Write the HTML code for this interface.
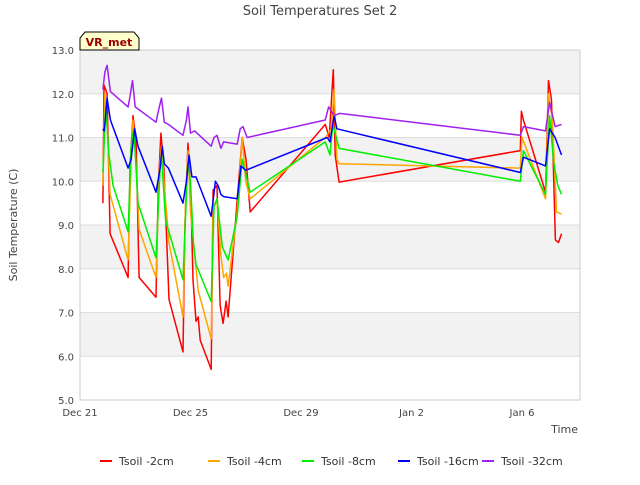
<!DOCTYPE html>
<html><head><meta charset="utf-8"><style>
body{margin:0;background:#fff;font-family:"Liberation Sans","DejaVu Sans",sans-serif}
svg text{font-family:"DejaVu Sans","Liberation Sans",sans-serif}
</style></head><body>
<svg id="chart" width="640" height="480" xmlns="http://www.w3.org/2000/svg">
<text x="320" y="15" text-anchor="middle" font-size="13" fill="#444">Soil Temperatures Set 2</text>
<g id="bands"></g><g id="grid"></g><g id="series"></g><g id="axes"></g>
<text transform="translate(17,225) rotate(-90)" text-anchor="middle" font-size="11" fill="#444">Soil Temperature (C)</text>
<text x="578" y="433" text-anchor="end" font-size="11" fill="#444">Time</text>
<g>
<path d="M80,50 L80,38 L85,32 L134,32 L139,38 L139,50 Z" fill="#ffffcc" stroke="#000" stroke-width="1"/>
<text x="109" y="46" text-anchor="middle" font-size="11" font-weight="bold" fill="#990000">VR_met</text>
</g>
<g id="legend"></g>
</svg>
<script>
const yTicks=[5,6,7,8,9,10,11,12,13];
const xTickDays=[0,4,8,12,16];
const xTickLabels=["Dec 21","Dec 25","Dec 29","Jan 2","Jan 6"];
const seriesNames=["Tsoil -2cm","Tsoil -4cm","Tsoil -8cm","Tsoil -16cm","Tsoil -32cm"];
const seriesColors=["#ff0000","#ffa500","#00ee00","#0000ff","#a020f0"];
const redDays=[0.83,0.87,0.98,1.09,1.74,1.81,1.92,2.03,2.14,2.75,2.83,2.93,3.04,3.22,3.73,3.80,3.91,4.02,4.09,4.20,4.28,4.35,4.75,4.82,4.96,5.07,5.18,5.29,5.36,5.69,5.87,6.01,6.16,8.88,9.02,9.17,9.24,9.38,15.94,15.98,16.05,16.85,16.96,17.07,17.21,17.32,17.43];
const redVals=[9.5,12.2,12.0,8.8,7.8,10.3,11.5,10.9,7.8,7.35,9.8,11.1,10.25,7.3,6.1,9.07,10.87,9.57,7.75,6.8,6.9,6.37,5.7,9.8,9.9,7.17,6.75,7.26,6.9,9.57,11.0,10.5,9.3,11.3,11.0,12.55,10.6,9.98,10.7,11.6,11.4,9.75,12.3,11.86,8.66,8.6,8.8];
const orangeDays=[0.83,0.9,0.98,1.09,1.74,1.85,1.92,2.05,2.14,2.75,2.87,2.95,3.05,3.22,3.73,3.82,3.91,4.0,4.28,4.75,4.82,4.96,5.1,5.2,5.3,5.36,5.69,5.87,6.0,6.16,8.88,9.1,9.2,9.3,9.38,15.94,16.0,16.85,16.96,17.1,17.25,17.43];
const orangeVals=[9.9,12.0,11.3,9.7,8.2,10.5,11.4,10.2,8.9,7.8,10.2,10.8,9.9,8.6,6.9,9.5,10.7,9.3,7.5,6.4,9.4,9.6,8.3,7.8,7.9,7.6,9.3,11.0,10.0,9.6,11.0,11.2,12.1,10.5,10.4,10.3,11.0,9.6,12.0,11.4,9.3,9.25];
const greenDays=[0.83,0.93,1.05,1.2,1.74,1.85,1.95,2.1,2.75,2.9,2.95,3.1,3.73,3.9,4.0,4.1,4.2,4.75,4.85,4.96,5.15,5.36,5.69,5.87,6.16,8.88,9.05,9.15,9.38,15.94,16.05,16.85,17.0,17.15,17.3,17.43];
const greenVals=[10.2,11.7,10.6,9.9,8.85,10.8,11.2,9.5,8.25,10.3,10.6,9.1,7.75,10.4,10.0,8.6,8.1,7.25,9.4,9.6,8.5,8.2,9.2,10.5,9.75,10.9,10.6,11.3,10.75,10.0,10.7,9.7,11.5,10.4,9.9,9.7];
const blueDays=[0.83,0.88,0.98,1.1,1.74,1.85,1.98,2.1,2.75,2.9,2.98,3.05,3.2,3.73,3.85,3.95,4.05,4.2,4.75,4.9,5.0,5.1,5.2,5.69,5.83,6.0,8.95,9.05,9.2,9.3,15.94,16.05,16.85,17.0,17.2,17.43];
const blueVals=[11.2,11.15,11.9,11.4,10.3,10.5,11.2,10.8,9.75,10.3,10.8,10.4,10.3,9.5,10.0,10.6,10.1,10.1,9.2,10.0,9.9,9.7,9.65,9.6,10.35,10.25,11.0,10.9,11.5,11.2,10.2,10.55,10.35,11.2,11.0,10.6];
const purpleDays=[0.83,0.9,0.98,1.1,1.74,1.8,1.9,2.0,2.75,2.87,2.95,3.05,3.2,3.73,3.85,3.91,4.0,4.15,4.75,4.85,4.96,5.1,5.2,5.69,5.8,5.9,6.05,8.88,9.0,9.1,9.2,9.4,15.94,16.05,16.85,17.0,17.2,17.43];
const purpleVals=[12.1,12.5,12.65,12.05,11.7,11.9,12.3,11.7,11.35,11.7,11.9,11.35,11.3,11.05,11.4,11.7,11.1,11.15,10.8,11.0,11.05,10.75,10.9,10.85,11.2,11.25,11.0,11.4,11.7,11.6,11.5,11.55,11.05,11.25,11.15,11.8,11.25,11.3];
const allDays=[redDays,orangeDays,greenDays,blueDays,purpleDays];
const allVals=[redVals,orangeVals,greenVals,blueVals,purpleVals];

const L=80,R=580,T=50,B=400,D0=0,D1=18.1,V0=5,V1=13;
const xs=d=>L+(d-D0)/(D1-D0)*(R-L);
const ys=v=>B-(v-V0)/(V1-V0)*(B-T);
const NS="http://www.w3.org/2000/svg";
function mk(tag,attrs,parent){const e=document.createElementNS(NS,tag);for(const k in attrs)e.setAttribute(k,attrs[k]);parent.appendChild(e);return e;}
const bands=document.getElementById('bands'),grid=document.getElementById('grid'),ser=document.getElementById('series'),axes=document.getElementById('axes'),leg=document.getElementById('legend');
const bg=mk('rect',{x:L,y:T,width:R-L,height:B-T,fill:'#ffffff'},bands);


for(let i=0;i<yTicks.length-1;i++){
  if(i%2===1){const r=mk('rect',{x:L,y:ys(yTicks[i+1]),width:R-L,height:ys(yTicks[i])-ys(yTicks[i+1]),fill:'#f2f2f2'},bands);
  
  }
}
yTicks.forEach(v=>{
  const l=mk('line',{x1:L,x2:R,y1:ys(v),y2:ys(v),stroke:'#dddddd','stroke-width':1},grid);
  
  
  const t=mk('text',{x:L-6,y:ys(v)+4,'text-anchor':'end','font-size':10,fill:'#444'},axes);
  t.textContent=v.toFixed(1);
  
  
});
xTickDays.forEach((d,i)=>{
  const t=mk('text',{x:xs(d),y:B+16,'text-anchor':'middle','font-size':10,fill:'#444'},axes);
  t.textContent=xTickLabels[i];
  
  
});
const fr=mk('rect',{x:L,y:T,width:R-L,height:B-T,fill:'none',stroke:'#cccccc'},axes);


allDays.forEach((ds,s)=>{
  const pts=ds.map((d,i)=>xs(d).toFixed(1)+','+ys(allVals[s][i]).toFixed(1)).join(' ');
  const p=mk('polyline',{points:pts,fill:'none',stroke:seriesColors[s],'stroke-width':1.5,'stroke-linejoin':'round'},ser);
  
  
});
const legX=[100,208,302,398,482];
seriesNames.forEach((n,i)=>{
  const g=mk('g',{},leg);
  
  
  mk('line',{x1:legX[i],x2:legX[i]+12,y1:461,y2:461,stroke:seriesColors[i],'stroke-width':2},g);
  const t=mk('text',{x:legX[i]+19,y:465,'font-size':11,fill:'#333'},g);
  t.textContent=n;
});
</script>
</body></html>
